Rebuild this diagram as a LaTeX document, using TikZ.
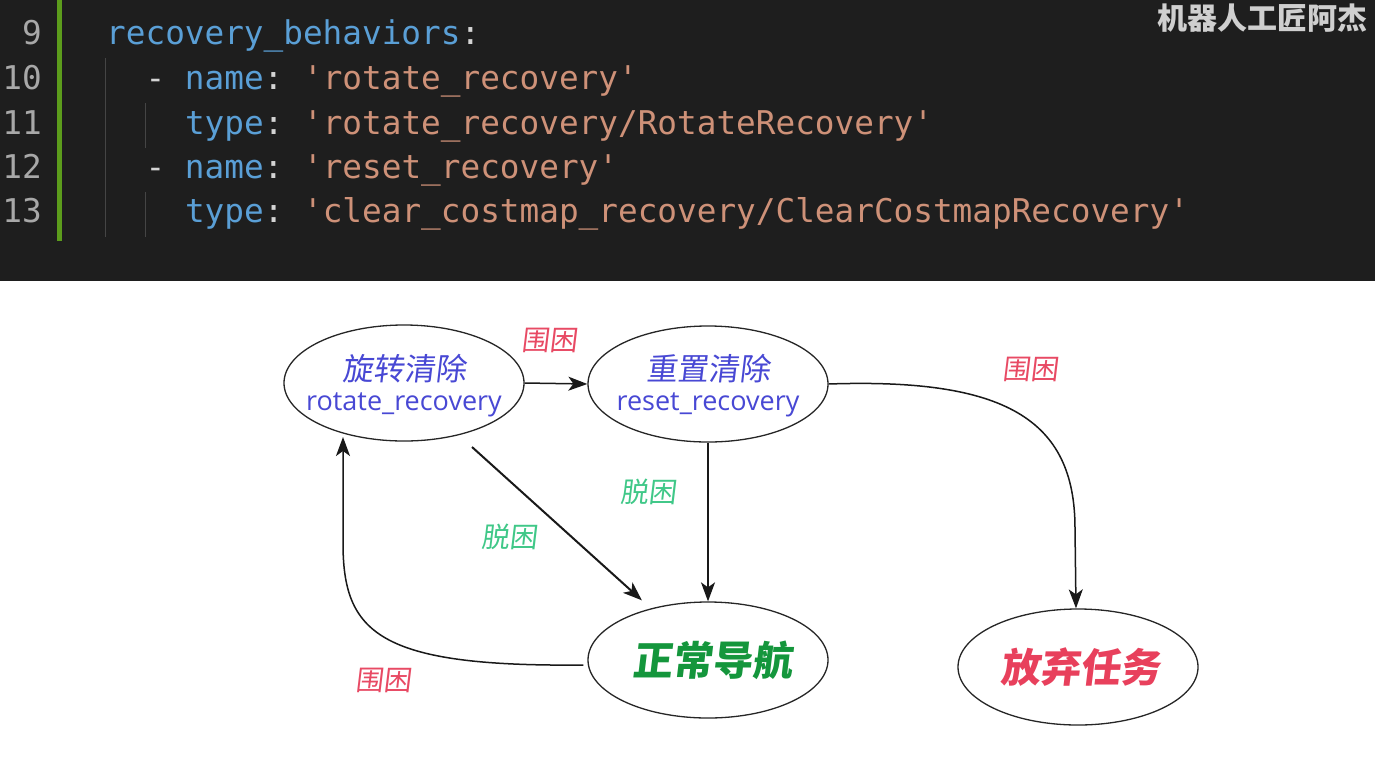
\documentclass[tikz,border=0pt]{standalone}
\usepackage{fontspec}
\setmonofont{DejaVu Sans Mono}
\newfontfamily\cjk{Noto Sans CJK SC}
\newfontfamily\cjkit[FakeSlant=0.12]{Noto Sans CJK SC}
\newfontfamily\latsans{Open Sans}
\usetikzlibrary{shapes.geometric,arrows.meta,calc}
\definecolor{bg}{HTML}{1E1E1E}
\definecolor{lnumc}{HTML}{A8A8A8}
\definecolor{keyc}{HTML}{5A9FD6}
\definecolor{strc}{HTML}{CE9178}
\definecolor{punc}{HTML}{D4D4D4}
\definecolor{gbarc}{HTML}{5C9C1C}
\definecolor{guidec}{HTML}{454545}
\definecolor{wmark}{HTML}{CFCFCF}
\definecolor{nblue}{HTML}{4848D4}
\definecolor{ngreen}{HTML}{14963C}
\definecolor{nred}{HTML}{E8405C}
\definecolor{lred}{HTML}{E84A64}
\definecolor{lgreen}{HTML}{40C888}
\begin{document}
\begin{tikzpicture}[x=1pt,y=-1pt,
  code/.style={anchor=base west,inner sep=0pt,font=\ttfamily\frenchspacing\fontsize{32.7}{33}\selectfont},
  lnum/.style={anchor=base east,inner sep=0pt,text=lnumc,font=\ttfamily\fontsize{32.7}{33}\selectfont},
  st/.style={ellipse,draw=black!85,line width=1.3pt,minimum width=240pt,minimum height=116pt,inner sep=0pt},
  edge/.style={draw=black!90,line width=1.5pt,-{Stealth[length=19pt,width=14pt,inset=5pt]}},
  cjkname/.style={inner sep=0pt,text=nblue,font=\cjkit\fontsize{31}{31}\selectfont},
  latname/.style={inner sep=0pt,text=nblue,font=\latsans\fontsize{27}{27}\selectfont},
  bigname/.style={inner sep=0pt,font=\cjkit\bfseries\fontsize{40}{40}\selectfont},
  trapped/.style={inner sep=0pt,text=lred,font=\cjkit\fontsize{28}{28}\selectfont},
  freed/.style={inner sep=0pt,text=lgreen,font=\cjkit\fontsize{28}{28}\selectfont}]
\useasboundingbox (0,0) rectangle (1375,766);
\fill[white] (0,0) rectangle (1375,766);
\fill[bg] (0,0) rectangle (1375,281);
% code editor
\fill[gbarc] (57,0) rectangle (62,241);
\draw[guidec,line width=1pt] (105,58) -- (105,237);
\draw[guidec,line width=1pt] (145,103) -- (145,148);
\draw[guidec,line width=1pt] (145,192) -- (145,237);
\node[lnum] (l8) at (42,-1) {8};
\node[lnum] (l9) at (42,44) {9};
\node[lnum] (l10) at (42,89) {10};
\node[lnum] (l11) at (42,134) {11};
\node[lnum] (l12) at (42,178) {12};
\node[lnum] (l13) at (42,222) {13};
\node[code] (c9) at (106,44) {\textcolor{keyc}{recovery\_behaviors}\textcolor{punc}{:}};
\node[code] (c10) at (145.4,89) {\textcolor{punc}{-}~\textcolor{keyc}{name}\textcolor{punc}{:}~\textcolor{strc}{'rotate\_recovery'}};
\node[code] (c11) at (184.8,134) {\textcolor{keyc}{type}\textcolor{punc}{:}~\textcolor{strc}{'rotate\_recovery/RotateRecovery'}};
\node[code] (c12) at (145.4,178) {\textcolor{punc}{-}~\textcolor{keyc}{name}\textcolor{punc}{:}~\textcolor{strc}{'reset\_recovery'}};
\node[code] (c13) at (184.8,222) {\textcolor{keyc}{type}\textcolor{punc}{:}~\textcolor{strc}{'clear\_costmap\_recovery/ClearCostmapRecovery'}};
\node[anchor=east,inner sep=0pt,text=wmark,font=\cjk\bfseries\fontsize{30}{30}\selectfont] (wm) at (1368,18) {机器人工匠阿杰};
% diagram
\node[st] (e1) at (404,383) {};
\node[st] (e2) at (708,384) {};
\node[st] (e3) at (708,660) {};
\node[st] (e4) at (1078,667) {};
\node[cjkname] (t1a) at (404,369) {旋转清除};
\node[latname] (t1b) at (404,405) {rotate\_recovery};
\node[cjkname] (t2a) at (708,369) {重置清除};
\node[latname] (t2b) at (708,405) {reset\_recovery};
\node[bigname,text=ngreen] (t3) at (712,660) {正常导航};
\node[bigname,text=nred] (t4) at (1080,667) {放弃任务};
% connectors
\draw[edge] (e1.east) -- (e2.west);
\draw[edge] (e2.south) -- (e3.north);
\draw[edge,line width=2pt,shorten >=12pt] ($(e1.center)+(68,64)$) -- (e3);
\draw[edge] (e2.east) .. controls +(175,-6) and +(0,-110) .. ($(e4.north)+(-3,-80)$) -- ($(e4.north)+(-2,0)$);
\draw[edge] ($(e3.west)+(-4,5)$) .. controls +(-205,2) and +(0,90) .. ($(e1.center)+(-61,160)$) -- ($(e1.center)+(-61,54)$);
% labels
\node[trapped] (g1) at (549,340) {围困};
\node[trapped] (g2) at (1030,369) {围困};
\node[trapped] (g3) at (383,680) {围困};
\node[freed] (f1) at (648,492) {脱困};
\node[freed] (f2) at (509,537) {脱困};
\end{tikzpicture}
\end{document}
